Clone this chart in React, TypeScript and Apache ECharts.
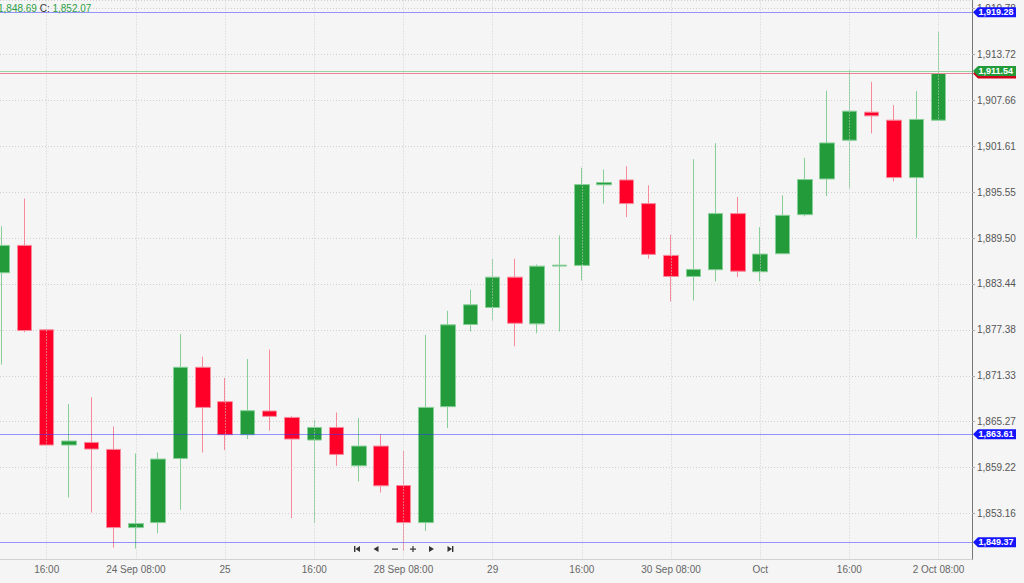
import React, { useEffect, useRef } from "react";
import * as echarts from "echarts";

// 4-hour candles (gold), categories
const times = [
  "23 Sep 08:00", "23 Sep 12:00", "23 Sep 16:00", "23 Sep 20:00",
  "24 Sep 00:00", "24 Sep 04:00", "24 Sep 08:00", "24 Sep 12:00",
  "24 Sep 16:00", "24 Sep 20:00", "25 Sep 00:00", "25 Sep 04:00",
  "25 Sep 08:00", "25 Sep 12:00", "25 Sep 16:00", "25 Sep 20:00",
  "28 Sep 00:00", "28 Sep 04:00", "28 Sep 08:00", "28 Sep 12:00",
  "28 Sep 16:00", "28 Sep 20:00", "29 Sep 00:00", "29 Sep 04:00",
  "29 Sep 08:00", "29 Sep 12:00", "29 Sep 16:00", "29 Sep 20:00",
  "30 Sep 00:00", "30 Sep 04:00", "30 Sep 08:00", "30 Sep 12:00",
  "30 Sep 16:00", "30 Sep 20:00", "1 Oct 00:00", "1 Oct 04:00",
  "1 Oct 08:00", "1 Oct 12:00", "1 Oct 16:00", "1 Oct 20:00",
  "2 Oct 00:00", "2 Oct 04:00", "2 Oct 08:00", "2 Oct 12:00",
];

const opens = [
  1884.92, 1888.53, 1877.39, 1862.2, 1862.54, 1861.62, 1851.31, 1851.97, 1860.43, 1872.45,
  1867.92, 1863.56, 1866.69, 1865.84, 1862.86, 1864.52, 1859.46, 1862.06, 1856.86, 1851.97,
  1867.26, 1878.09, 1880.34, 1884.34, 1878.18, 1885.8, 1885.89, 1896.52, 1897.16, 1894.04,
  1887.21, 1884.43, 1885.32, 1892.72, 1885.05, 1887.43, 1892.58, 1897.29, 1902.4, 1906.1,
  1905.04, 1897.47, 1905.04,
];
const closes = [
  1888.53, 1877.3, 1862.2, 1862.73, 1861.67, 1851.31, 1851.84, 1860.35, 1872.45, 1867.16,
  1863.56, 1866.73, 1865.98, 1862.99, 1864.52, 1860.96, 1862.06, 1856.82, 1851.97, 1867.16,
  1878.05, 1880.69, 1884.34, 1878.26, 1885.79, 1885.92, 1896.55, 1896.81, 1894.04, 1887.34,
  1884.43, 1885.36, 1892.72, 1885.13, 1887.38, 1892.49, 1897.21, 1902.04, 1906.23, 1905.61,
  1897.47, 1905.14, 1911.19,
];
const lows = [
  1872.81, 1877.07, 1862.07, 1855.27, 1853.29, 1848.67, 1848.54, 1850.57, 1853.65, 1861.22,
  1861.54, 1862.99, 1864.09, 1852.55, 1851.97, 1859.46, 1857.39, 1855.93, 1848.23, 1850.87,
  1864.44, 1877.17, 1878.62, 1875.22, 1876.94, 1877.17, 1883.9, 1894.04, 1892.27, 1886.77,
  1881.13, 1881.26, 1883.77, 1884.34, 1883.77, 1887.4, 1892.36, 1895.04, 1896.02, 1903.29,
  1896.98, 1889.49, 1905.0,
];
const highs = [
  1891.04, 1894.7, 1877.45, 1867.61, 1868.49, 1864.65, 1861.09, 1861.22, 1876.86, 1873.86,
  1871.05, 1873.56, 1874.79, 1866.0, 1865.54, 1866.5, 1865.76, 1863.65, 1861.44, 1876.73,
  1879.9, 1882.68, 1886.77, 1886.77, 1886.0, 1889.85, 1898.79, 1898.53, 1898.97, 1896.46,
  1889.94, 1899.89, 1902.0, 1894.91, 1890.95, 1895.13, 1900.06, 1908.91, 1911.74, 1910.1,
  1907.03, 1908.87, 1916.71,
];

// x-axis tick labels (category index -> label)
const xTickIdx = [2, 6, 10, 14, 18, 22, 26, 30, 34, 38, 42];
const xTickLabels = [
  "16:00", "24 Sep 08:00", "25", "16:00", "28 Sep 08:00", "29",
  "16:00", "30 Sep 08:00", "Oct", "16:00", "2 Oct 08:00",
];

// y-axis scale (ticks 1,853.16 ... 1,919.78)
const yMin = 1847.104;
const yMax = 1920.89;
const yStep = 6.056;

// horizontal price lines
const bluePriceLines = [1919.28, 1863.61, 1849.37];
const askPrice = 1911.54;
const bidPrice = 1911.19;

// header (partially visible)
const headerLow = "1,848.69";
const headerClose = "1,852.07";

const FONT = "Liberation Sans, Arial, sans-serif";
const BG = "#f5f5f5";
const GREEN = "#239b3b";
const RED = "#ff0029";
const BLUE = "#1414ff";
// the chart canvas starts 9px left of the page (first candle is cut by the page edge)
const OFF = 9;

const fmt = (v: number) =>
  v.toLocaleString("en-US", { minimumFractionDigits: 2, maximumFractionDigits: 2 });

export default function App() {
  const ref = useRef<HTMLDivElement>(null);

  useEffect(() => {
    if (!ref.current) return;
    const chart = echarts.init(ref.current, undefined, { renderer: "svg" });
    const candleData = opens.map((o, i) => [o, closes[i], lows[i], highs[i]]);

    const option: any = {
      animation: false,
      backgroundColor: BG,
      grid: { left: 0, right: 52, top: 0, bottom: 23.5, containLabel: false },
      xAxis: {
        type: "category",
        data: times,
        boundaryGap: true,
        axisLine: { show: true, lineStyle: { color: "#d2d2d2", width: 1 } },
        axisTick: { show: false },
        axisLabel: {
          interval: (i: number) => xTickIdx.includes(i),
          formatter: (_v: string, i: number) => {
            const k = xTickIdx.indexOf(i);
            return k >= 0 ? xTickLabels[k] : "";
          },
          color: "#666",
          fontSize: 10,
          fontFamily: FONT,
          margin: 5,
        },
        splitLine: { show: false },
      },
      yAxis: {
        type: "value",
        position: "right",
        min: yMin,
        max: yMax,
        interval: yStep,
        axisLine: { show: true, lineStyle: { color: "#777", width: 1 } },
        axisTick: { show: true, length: 3, lineStyle: { color: "#aaa" } },
        axisLabel: {
          showMinLabel: false,
          showMaxLabel: false,
          formatter: (v: number) => fmt(v),
          color: "#555",
          fontSize: 10,
          fontFamily: FONT,
          margin: 5,
        },
        splitLine: { show: true, lineStyle: { type: [1, 2], color: "#d0d0d0" } },
      },
      series: [
        {
          type: "line",
          data: [],
          z: 1,
          silent: true,
          markLine: {
            silent: true,
            symbol: ["none", "none"],
            label: { show: false },
            lineStyle: { type: [1, 2], color: "#d0d0d0", width: 1 },
            data: xTickIdx.map((i) => ({ xAxis: times[i] })),
          },
        },
        {
          type: "candlestick",
          data: candleData,
          barWidth: 15,
          z: 2,
          silent: true,
          itemStyle: {
            color: GREEN,
            color0: RED,
            borderColor: "#86cf96",
            borderColor0: "#f6899a",
            borderWidth: 1,
          },
          markLine: {
            silent: true,
            symbol: ["none", "none"],
            label: { show: false },
            data: [
              ...bluePriceLines.map((v) => ({
                yAxis: v,
                lineStyle: { color: "rgba(50,50,255,0.5)", width: 1, type: "solid" },
              })),
              { yAxis: askPrice, lineStyle: { color: "#9ad3a5", width: 1, type: "solid" } },
              { yAxis: bidPrice, lineStyle: { color: "#ec8390", width: 1, type: "solid" } },
            ],
          },
        },
      ],
    };
    chart.setOption(option);

    const py = (v: number) => chart.convertToPixel({ yAxisIndex: 0 }, v) as number;
    const x0 = 973 + OFF;
    const x1 = 1016 + OFF;
    const tag = (v: number, color: string, text: string) => {
      const y = py(v);
      return [
        {
          type: "polygon",
          z: 100,
          shape: {
            points: [
              [x0, y],
              [x0 + 5, y - 5],
              [x1, y - 5],
              [x1, y + 5],
              [x0 + 5, y + 5],
            ],
          },
          style: { fill: color },
        },
        {
          type: "text",
          z: 101,
          x: 978.5 + OFF,
          y: y,
          style: {
            text,
            fill: "#fff",
            font: `bold 9px ${FONT}`,
            verticalAlign: "middle",
            align: "left",
          },
        },
      ];
    };

    const navColor = "#333";
    const ny = 549;
    const nx = (x: number) => x + OFF;
    const graphics: any[] = [
      { type: "rect", z: 99, shape: { x: 1016 + OFF, y: 0, width: 12, height: 583 }, style: { fill: BG } },
      ...tag(bluePriceLines[0], BLUE, fmt(bluePriceLines[0])),
      ...tag(bluePriceLines[1], BLUE, fmt(bluePriceLines[1])),
      ...tag(bluePriceLines[2], BLUE, fmt(bluePriceLines[2])),
      ...tag(bidPrice, "#d0021b", ""),
      ...tag(askPrice, GREEN, fmt(askPrice)),
      {
        type: "text",
        z: 101,
        x: OFF - 2,
        y: 3,
        style: {
          text: `{g|${headerLow}} {k|C:} {g|${headerClose}}`,
          rich: {
            g: { fill: "#2e9e46", font: `10px ${FONT}` },
            k: { fill: "#333", font: `10px ${FONT}` },
          },
          font: `10px ${FONT}`,
        },
      },
      // navigation buttons
      { type: "rect", z: 101, shape: { x: nx(354), y: ny - 3, width: 1.4, height: 6 }, style: { fill: navColor } },
      { type: "polygon", z: 101, shape: { points: [[nx(355.4), ny], [nx(360), ny - 3], [nx(360), ny + 3]] }, style: { fill: navColor } },
      { type: "polygon", z: 101, shape: { points: [[nx(373.5), ny], [nx(378.5), ny - 3], [nx(378.5), ny + 3]] }, style: { fill: navColor } },
      { type: "rect", z: 101, shape: { x: nx(392), y: ny - 0.5, width: 6, height: 1.2 }, style: { fill: navColor } },
      { type: "rect", z: 101, shape: { x: nx(410), y: ny - 0.5, width: 6, height: 1.2 }, style: { fill: navColor } },
      { type: "rect", z: 101, shape: { x: nx(412.4), y: ny - 3, width: 1.2, height: 6 }, style: { fill: navColor } },
      { type: "polygon", z: 101, shape: { points: [[nx(429), ny - 3], [nx(429), ny + 3], [nx(434), ny]] }, style: { fill: navColor } },
      { type: "polygon", z: 101, shape: { points: [[nx(447.5), ny - 3], [nx(447.5), ny + 3], [nx(452), ny]] }, style: { fill: navColor } },
      { type: "rect", z: 101, shape: { x: nx(452), y: ny - 3, width: 1.4, height: 6 }, style: { fill: navColor } },
    ];
    chart.setOption({ graphic: graphics });

    return () => chart.dispose();
  }, []);

  return (
    <div style={{ position: "fixed", left: 0, top: 0, width: 1024, height: 583, overflow: "hidden", background: BG }}>
      <div
        ref={ref}
        style={{ position: "absolute", left: -OFF, top: 0, width: 1024 + OFF, height: 583 }}
      />
    </div>
  );
}
